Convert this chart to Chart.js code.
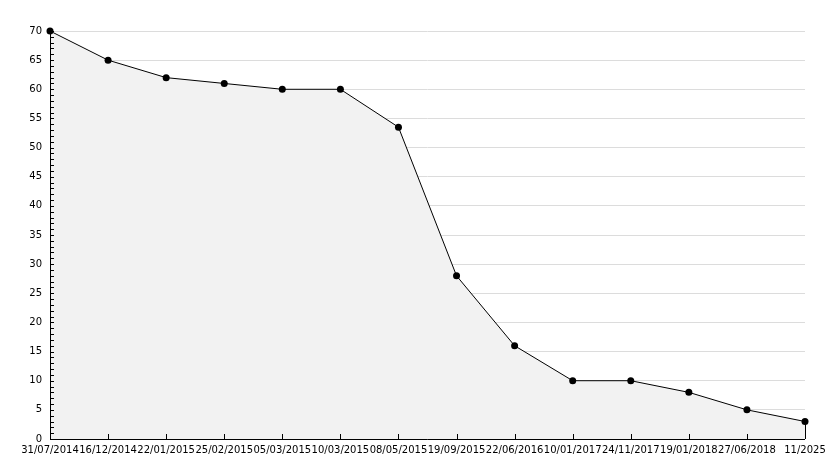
<!DOCTYPE html>
<html>
<head>
<meta charset="utf-8">
<script src="https://cdn.jsdelivr.net/npm/chart.js@4"></script>
<style>
html,body{margin:0;padding:0;background:#fff;}
#wrap{width:834px;height:468px;position:relative;}
</style>
</head>
<body>
<div id="wrap"><canvas id="c" width="834" height="468"></canvas></div>
<script>
const categories = ["31/07/2014","16/12/2014","22/01/2015","25/02/2015","05/03/2015","10/03/2015","08/05/2015","19/09/2015","22/06/2016","10/01/2017","24/11/2017","19/01/2018","27/06/2018","11/2025"];
const values = [70, 65, 62, 61, 60, 60, 53.5, 28, 16, 10, 10, 8, 5, 3];
const yMin = 0, yMax = 70, yStep = 5, yMinorStep = 1;

const axisPlugin = {
  id: 'axisPlugin',
  afterDatasetsDraw(chart) {
    const ctx = chart.ctx;
    const x = chart.scales.x, y = chart.scales.y;
    const a = chart.chartArea;
    ctx.save();
    ctx.strokeStyle = '#000';
    ctx.lineWidth = 1;
    ctx.beginPath();
    ctx.moveTo(a.left + 0.5, a.top);
    ctx.lineTo(a.left + 0.5, a.bottom + 0.5);
    ctx.lineTo(a.right, a.bottom + 0.5);
    for (let v = yMin; v <= yMax; v += yMinorStep) {
      const py = Math.round(y.getPixelForValue(v)) + 0.5;
      ctx.moveTo(a.left, py);
      ctx.lineTo(a.left + 4, py);
    }
    for (let i = 0; i < categories.length; i++) {
      const px = Math.round(x.getPixelForValue(i)) + 0.5;
      ctx.moveTo(px, a.bottom);
      ctx.lineTo(px, a.bottom - 5);
    }
    const last = categories.length - 1;
    const lx = Math.round(x.getPixelForValue(last)) + 0.5;
    ctx.moveTo(lx, y.getPixelForValue(values[last]));
    ctx.lineTo(lx, a.bottom);
    ctx.stroke();
    ctx.restore();
  }
};

new Chart(document.getElementById('c'), {
  type: 'line',
  data: {
    labels: categories,
    datasets: [{
      data: values,
      borderColor: '#000',
      borderWidth: 1,
      backgroundColor: '#f2f2f2',
      fill: 'origin',
      tension: 0,
      clip: false,
      pointRadius: 3.5,
      pointHoverRadius: 3.5,
      pointStyle: 'circle',
      pointBackgroundColor: '#000',
      pointBorderColor: '#000',
      pointBorderWidth: 0
    }]
  },
  options: {
    responsive: false,
    animation: false,
    events: [],
    layout: { padding: { top: 31, right: 29, left: 0, bottom: 0 } },
    plugins: { legend: { display: false }, tooltip: { enabled: false } },
    scales: {
      x: {
        type: 'category',
        offset: false,
        grid: { display: false, drawTicks: false },
        border: { display: false },
        ticks: {
          autoSkip: false, maxRotation: 0, minRotation: 0, padding: 5,
          color: '#000', font: { family: 'DejaVu Sans', size: 10 }
        },
        afterFit(s) { s.height = 29; }
      },
      y: {
        min: yMin, max: yMax,
        grid: { color: '#dcdcdc', drawTicks: false, lineWidth: 1 },
        border: { display: false },
        ticks: {
          stepSize: yStep, padding: 8,
          color: '#000', font: { family: 'DejaVu Sans', size: 10 }
        },
        afterFit(s) { s.width = 50; }
      }
    }
  },
  plugins: [axisPlugin]
});
</script>
</body>
</html>
